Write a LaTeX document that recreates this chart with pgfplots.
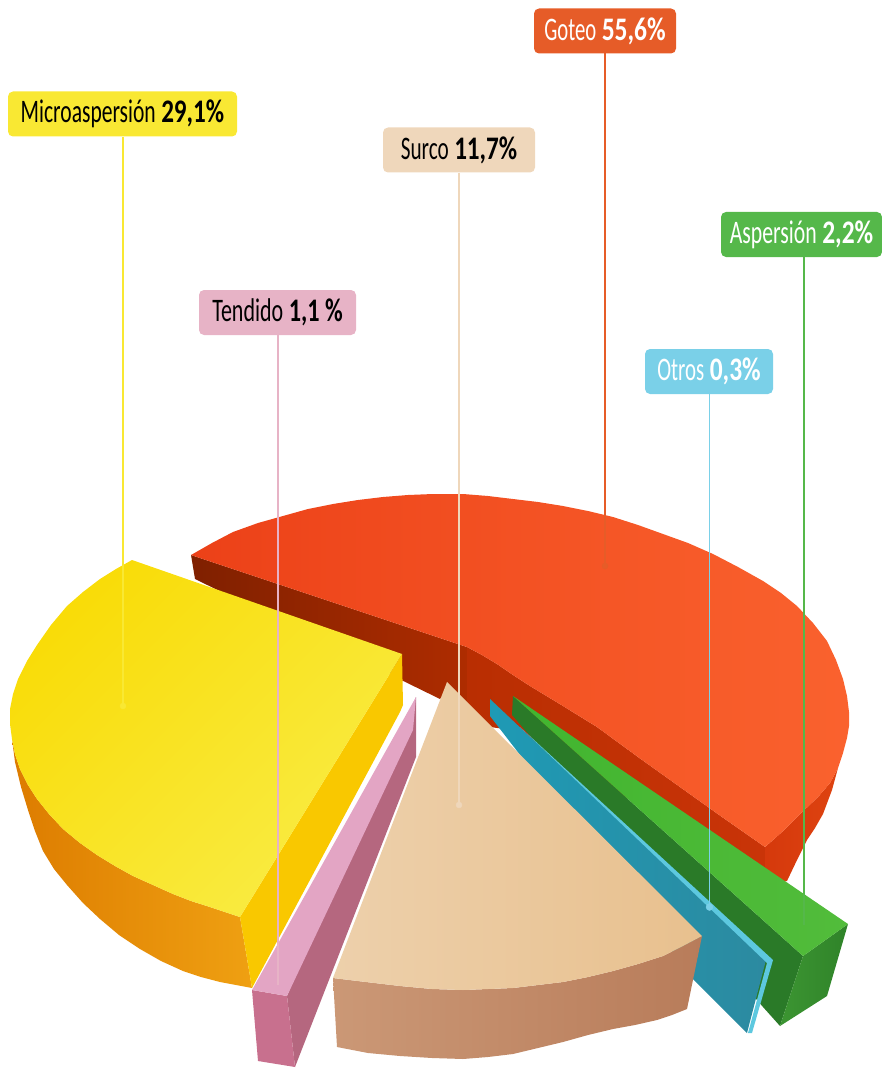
\documentclass[border=0pt]{standalone}
\usepackage{graphicx}
\usepackage{fontspec}
\setmainfont{Carlito}
\usepackage{pgfplots}
\pgfplotsset{compat=1.18}

\definecolor{cgoteo}{HTML}{E65C28}
\definecolor{cmicro}{HTML}{F9E833}
\definecolor{csurco}{HTML}{EFD7BB}
\definecolor{caspe}{HTML}{55B84A}
\definecolor{ctend}{HTML}{E7B3C6}
\definecolor{cotros}{HTML}{7AD0E8}
% faces of the slices
\definecolor{rA}{HTML}{7F2000}
\definecolor{rB}{HTML}{AE2C00}
\definecolor{rC}{HTML}{B92E02}
\definecolor{rD}{HTML}{C93408}
\definecolor{rE}{HTML}{D5390C}
\definecolor{rF}{HTML}{DE4310}
\definecolor{rG}{HTML}{EC4118}
\definecolor{rH}{HTML}{FA622E}
\definecolor{yA}{HTML}{DD7C00}
\definecolor{yB}{HTML}{EFA012}
\definecolor{yC}{HTML}{F9C800}
\definecolor{yD}{HTML}{F9DC08}
\definecolor{yE}{HTML}{F9EC45}
\definecolor{gA}{HTML}{2A7A28}
\definecolor{gB}{HTML}{3C9532}
\definecolor{gC}{HTML}{2F8329}
\definecolor{gD}{HTML}{41B52F}
\definecolor{gE}{HTML}{52BC3B}
\definecolor{bA}{HTML}{1E9AB5}
\definecolor{bB}{HTML}{2C8AA0}
\definecolor{bC}{HTML}{5DC8DF}
\definecolor{tA}{HTML}{CB9876}
\definecolor{tB}{HTML}{B87C5A}
\definecolor{tC}{HTML}{EDD0AB}
\definecolor{tD}{HTML}{E8C08E}
\definecolor{pA}{HTML}{B5677F}
\definecolor{pB}{HTML}{C8708E}
\definecolor{pC}{HTML}{E3A5C4}

\tikzset{
  lab/.style={rounded corners=5bp, inner sep=0pt, minimum height=45bp, font=\fontsize{33}{33}\selectfont},
}
\pgfplotsset{
  face/.style={draw=none, mark=none, sharp plot, forget plot},
  leader/.style={mark=none, line width=1.5bp, sharp plot, forget plot},
  dot/.style={only marks, mark=*, mark size=#1, forget plot},
}
% label text set to the measured widths: width, name, width, value
\newcommand{\lab}[4]{\raisebox{-1.5bp}{\resizebox{#1bp}{\height}{#2}\hspace{5.5bp}\resizebox{#3bp}{\height}{\textbf{#4}}}}

\begin{document}
\begin{tikzpicture}
\begin{axis}[
  scale only axis, width=882bp, height=1068bp,
  xmin=0, xmax=882, ymin=0, ymax=1068, y dir=reverse,
  hide axis, clip=false,
]
% keep the page as large as the axis
\path (axis cs:0,0) rectangle (axis cs:882,1068);
% goteo: inner dark face
\addplot[face, left color=rA, right color=rB] coordinates {
  (191,555)(467,647)(467,705)(447,690)(440,699)(195,579)} -- cycle;
\addplot[face, left color=rC, right color=rD] coordinates {
  (467,647)(482,655)(497,664)(513,675)(530,686)(563,706)(597,727)(638,757)(680,787)(722,817)(765,847)(765,880)(512,730)(490,727)(467,705)} -- cycle;
% goteo: outer side
\addplot[face, left color=rE, right color=rF] coordinates {
  (765,847)(782,832)(797,817)(818,797)(830,783)(838,768)(832,790)(823,814)(815,828)(807,840)(797,860)(787,881)(765,885)} -- cycle;
% goteo: top
\addplot[face, left color=rG, right color=rH] coordinates {
  (191,555)(212,543)(233,532)(258,523)(283,516)(308,509)(333,504)(358,500)(383,497)(408,495)(433,494)(463,494)(488,496)(513,499)(538,502)(563,506)(588,511)(613,517)(638,525)(663,534)(688,543)(713,554)(738,567)(763,581)(781,593)(797,606)(813,623)(827,641)(836,660)(843,679)(847,696)(849,712)(849,726)(847,738)(843,753)(838,768)(830,783)(818,797)(797,817)(782,832)(765,847)
  (722,817)(680,787)(638,757)(597,727)(563,706)(530,686)(513,675)(497,664)(482,655)(467,647)} -- cycle;
% microaspersion
\addplot[face, left color=yA, right color=yB] coordinates {
  (12,739)(15,762)(21,787)(28,810)(35,831)(43,851)(54,869)(67,885)(83,903)(100,919)(119,935)(140,949)(161,961)(183,971)(201,977)(220,982)(252,988)(240,917)(225,912)(210,907)(191,901)(173,894)(153,885)(133,876)(115,866)(97,855)(80,843)(63,829)(49,814)(37,799)(28,785)(20,769)(15,754)} -- cycle;
\addplot[face, fill=yC] coordinates {
  (240,917)(402,654)(403,705)(400,712)(252,988)} -- cycle;
\addplot[face, left color=yD, right color=yE, shading angle=45] coordinates {
  (132,560)(116,569)(100,579)(83,592)(67,606)(51,625)(37,645)(27,661)(18,679)(13,694)(10,709)(10,724)(12,739)(15,754)(20,769)(28,785)(37,799)(49,814)(63,829)(80,843)(97,855)(115,866)(133,876)(153,885)(173,894)(191,901)(210,907)(225,912)(240,917)(402,654)} -- cycle;
% aspersion
\addplot[face, fill=gA] coordinates {
  (513,696)(803,956)(780,1026)(763,1007)(512,715)} -- cycle;
\addplot[face, left color=gB, right color=gC] coordinates {
  (803,956)(848,924)(827,996)(780,1026)} -- cycle;
\addplot[face, left color=gD, right color=gE] coordinates {
  (513,696)(848,924)(803,956)} -- cycle;
% otros
\addplot[face, left color=bA, right color=bB] coordinates {
  (490,699)(766,960)(747,1033)(693,979)(490,716)} -- cycle;
\addplot[face, fill=bC] coordinates {
  (520,727)(773,960)(752,1033)(748,1033)(767,963)} -- cycle;
% surco
\addplot[face, left color=tA, right color=tB] coordinates {
  (333,978)(337,1047)(368,1053)(400,1056)(432,1058)(463,1059)(488,1057)(513,1054)(538,1048)(563,1042)(588,1035)(613,1029)(635,1025)(657,1020)(672,1015)(687,1009)(702,936)(683,946)(663,956)(638,964)(613,971)(588,977)(563,982)(538,985)(513,988)(488,989)(463,990)(432,989)(400,986)(366,982)} -- cycle;
\addplot[face, left color=tC, right color=tD] coordinates {
  (447,682)(702,936)(683,946)(663,956)(638,964)(613,971)(588,977)(563,982)(538,985)(513,988)(488,989)(463,990)(432,989)(400,986)(366,982)(333,978)} -- cycle;
% tendido
\addplot[face, fill=pA] coordinates {
  (416,697)(416,757)(295,1067)(287,996)} -- cycle;
\addplot[face, fill=pB] coordinates {
  (252,990)(287,996)(295,1067)(258,1061)} -- cycle;
\addplot[face, fill=pC] coordinates {
  (416,697)(252,990)(287,996)(413,730)} -- cycle;

% leader lines
\addplot[leader, draw=cgoteo] coordinates {(605,53)(605,566)};
\addplot[leader, draw=cmicro] coordinates {(123,137)(123,706)};
\addplot[leader, draw=ctend] coordinates {(278,335)(278,985)};
\addplot[leader, draw=csurco] coordinates {(459,173)(459,805)};
\addplot[leader, draw=cotros] coordinates {(709.5,394)(709.5,907)};
\addplot[leader, draw=caspe] coordinates {(804,257)(804,925)};
% dots
\addplot[dot=3bp, color=cgoteo, mark options={fill=cgoteo, draw=cgoteo}] coordinates {(605,566)};
\addplot[dot=3bp, color=cmicro, mark options={fill=cmicro, draw=cmicro}] coordinates {(123,706)};
\addplot[dot=3bp, color=csurco, mark options={fill=csurco, draw=csurco}] coordinates {(459,805)};
\addplot[dot=3.5bp, color=cotros, mark options={fill=cotros, draw=cotros}] coordinates {(709.5,907)};

% labels
\node[lab, fill=cgoteo, text=white, minimum width=142bp] at (axis cs:605,31) {\lab{52}{Goteo}{64}{55,6\%}};
\node[lab, fill=cmicro, text=black, minimum width=229bp] at (axis cs:122.5,114) {\lab{135}{Microaspersión}{63}{29,1\%}};
\node[lab, fill=csurco, text=black, minimum width=152bp] at (axis cs:459,150) {\lab{48}{Surco}{63}{11,7\%}};
\node[lab, fill=caspe, text=white, minimum width=161bp] at (axis cs:801.5,234.5) {\lab{87}{Aspersión}{51}{2,2\%}};
\node[lab, fill=ctend, text=black, minimum width=157bp] at (axis cs:277.5,312.5) {\lab{71}{Tendido}{54}{1,1 \%}};
\node[lab, fill=cotros, text=white, minimum width=128bp] at (axis cs:709,371.5) {\lab{47}{Otros}{51}{0,3\%}};
\end{axis}
\end{tikzpicture}
\end{document}
